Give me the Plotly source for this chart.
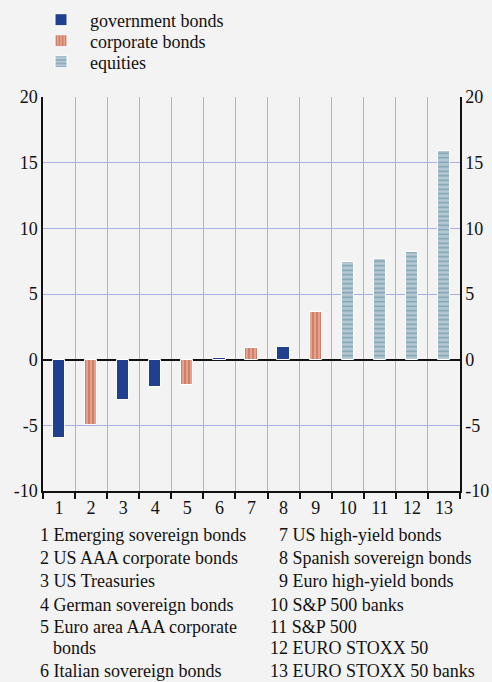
import plotly.graph_objects as go

categories = list(range(1, 14))
values = [-6.0, -5.0, -3.1, -2.1, -1.9, 0.15, 0.9, 1.0, 3.65, 7.4, 7.7, 8.2, 15.9]
asset_type = ["gov", "corp", "gov", "gov", "corp", "gov", "corp", "gov", "corp",
              "eq", "eq", "eq", "eq"]
series_names = {"gov": "government bonds", "corp": "corporate bonds", "eq": "equities"}
y_ticks = [-10, -5, 0, 5, 10, 15, 20]
y_tick_text = ["-10", "-5", "0", "5", "10", "15", "20"]
left_labels = ["1 Emerging sovereign bonds", "2 US AAA corporate bonds", "3 US Treasuries",
               "4 German sovereign bonds", "5 Euro area AAA corporate", "bonds",
               "6 Italian sovereign bonds"]
right_labels = ["7 US high-yield bonds", "8 Spanish sovereign bonds", "9 Euro high-yield bonds",
                "10 S&P 500 banks", "11 S&P 500", "12 EURO STOXX 50", "13 EURO STOXX 50 banks"]

styles = {
    "gov": dict(color="#1f3f8f", pattern=dict(shape="")),
    "corp": dict(color="#e2a48c", pattern=dict(shape="|", fgcolor="#ad2316", bgcolor="#e2a48c",
                                               size=4, solidity=0.3, fillmode="overlay")),
    "eq": dict(color="#b7c8d3", pattern=dict(shape="-", fgcolor="#3f7f94", bgcolor="#b7c8d3",
                                             size=4.5, solidity=0.35, fillmode="overlay")),
}

FONT = "Liberation Serif"
FS = 18
plot_h = 394.0
plot_w = 417.0
legend_ids = {"gov": "legend", "corp": "legend2", "eq": "legend3"}
legend_rows_px = {"gov": 20, "corp": 41, "eq": 62}

fig = go.Figure()
for key in ["gov", "corp", "eq"]:
    xs = [c for c, t in zip(categories, asset_type) if t == key]
    ys = [v for v, t in zip(values, asset_type) if t == key]
    st = styles[key]
    fig.add_trace(go.Bar(
        x=xs, y=ys, name=series_names[key], width=0.38, legend=legend_ids[key],
        marker=dict(color=st["color"], pattern=st["pattern"],
                    line=dict(color="white", width=1)),
    ))

fig.add_trace(go.Scatter(x=[1], y=[0], yaxis="y2", mode="markers",
                         marker=dict(opacity=0), showlegend=False, hoverinfo="skip"))

grid_c = "#a9b0e6"
legend_common = dict(x=(32 - 43) / plot_w, xanchor="left", yanchor="middle",
                     bgcolor="rgba(0,0,0,0)", font=dict(family=FONT, size=FS, color="#111111"),
                     itemwidth=48, borderwidth=0)
legends = {}
for key in ["gov", "corp", "eq"]:
    d = dict(legend_common)
    d["y"] = 1 + (97 - legend_rows_px[key]) / plot_h
    legends[legend_ids[key]] = d

fig.update_layout(
    width=492, height=682,
    margin=dict(l=43, r=32, t=97, b=191, autoexpand=False),
    paper_bgcolor="#f3f3f3", plot_bgcolor="#f3f3f3",
    font=dict(family=FONT, size=FS, color="#111111"),
    barmode="overlay", bargap=0,
    showlegend=True,
    xaxis=dict(range=[0.5, 13.5], tickmode="array", tickvals=categories,
               ticktext=[str(c) for c in categories], showgrid=False, ticks="",
               showline=True, linecolor="#111111", linewidth=1.5, mirror=False,
               zeroline=False, tickfont=dict(family=FONT, size=FS),
               minor=dict(tick0=0.5, dtick=1, showgrid=True, gridcolor=grid_c,
                          gridwidth=1, ticks="outside", ticklen=6,
                          tickcolor="#111111", tickwidth=1.5)),
    yaxis=dict(range=[-10, 20], tickmode="array", tickvals=y_ticks, ticktext=y_tick_text,
               showgrid=True, gridcolor=grid_c, gridwidth=1,
               zeroline=True, zerolinecolor="#111111", zerolinewidth=1.5,
               showline=True, linecolor="#111111", linewidth=1.5, ticks="",
               tickfont=dict(family=FONT, size=FS)),
    yaxis2=dict(range=[-10, 20], tickmode="array", tickvals=y_ticks, ticktext=y_tick_text,
                overlaying="y", side="right", showgrid=False, zeroline=False,
                showline=True, linecolor="#111111", linewidth=1.5, ticks="",
                tickfont=dict(family=FONT, size=FS)),
    **legends,
)

row_px = [535, 558, 581, 605, 627, 648, 671]
for i, txt in enumerate(left_labels):
    xpix = 51 if txt == "bonds" else 38
    fig.add_annotation(xref="paper", yref="paper", x=(xpix - 43) / plot_w,
                       y=(491 - row_px[i]) / plot_h, text=txt, showarrow=False,
                       xanchor="left", yanchor="middle",
                       font=dict(family=FONT, size=FS, color="#111111"))
for i, txt in enumerate(right_labels):
    xpix = 277 if i < 3 else 268
    fig.add_annotation(xref="paper", yref="paper", x=(xpix - 43) / plot_w,
                       y=(491 - row_px[i]) / plot_h, text=txt, showarrow=False,
                       xanchor="left", yanchor="middle",
                       font=dict(family=FONT, size=FS, color="#111111"))

fig.write_html("out.html", config={"displayModeBar": False},
               post_script="document.body.style.margin='0';document.body.style.background='#f3f3f3';")
